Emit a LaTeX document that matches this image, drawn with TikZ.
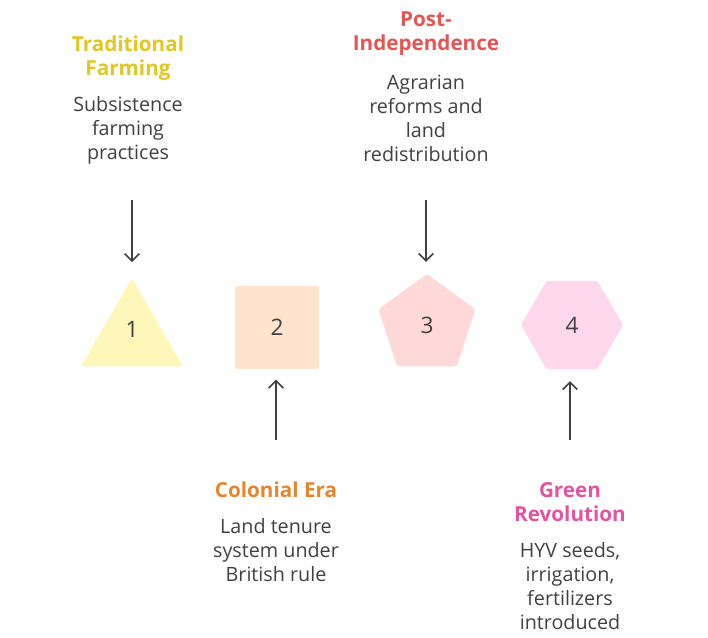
\documentclass[tikz,border=0pt]{standalone}
\usepackage{fontspec}
\setmainfont{Open Sans}
\usepackage{xcolor}
\usetikzlibrary{shapes.geometric,arrows.meta}
\definecolor{inkgray}{RGB}{64,64,64}
\definecolor{titleyellow}{RGB}{226,198,34}
\definecolor{titlered}{RGB}{230,84,84}
\definecolor{titleorange}{RGB}{228,134,48}
\definecolor{titlepink}{RGB}{226,84,162}
\definecolor{fillyellow}{RGB}{255,247,186}
\definecolor{fillpeach}{RGB}{255,227,204}
\definecolor{fillrose}{RGB}{255,216,216}
\definecolor{fillpink}{RGB}{255,216,238}
\begin{document}
\begin{tikzpicture}[x=0.75pt,y=-0.75pt,
		title/.style={font=\fontsize{15.5}{18}\selectfont\bfseries, align=center},
		desc/.style={font=\fontsize{14.8}{18}\selectfont, text=inkgray, align=center},
		era/.style={inner sep=0pt, outer sep=0pt, rounded corners=2pt, text=inkgray, font=\fontsize{17}{18}\selectfont},
		link/.style={-{Straight Barb[length=5.5pt,width=11pt]}, line width=1.2pt, inkgray}]
			\useasboundingbox (0,0) rectangle (708,638);
			\node[era, regular polygon, regular polygon sides=3, minimum size=88.4pt, fill=fillyellow] (stage1) at (132,337) {};
			\node[era, text=inkgray] (num1) at (132,329) {1};
			\node[era, rectangle, minimum width=63pt, minimum height=62.25pt, fill=fillpeach] (stage2) at (277,327.5) {2};
			\node[era, regular polygon, regular polygon sides=5, minimum size=76.5pt, fill=fillrose] (stage3) at (427,325) {3};
			\node[era, regular polygon, regular polygon sides=6, minimum size=76.5pt, fill=fillpink] (stage4) at (572,325) {4};
			\node[title, text=titleyellow] (title1) at (128,58) {Traditional\\Farming};
			\node[desc] (desc1) at (128,130) {Subsistence\\farming\\practices};
			\node[title, text=titleorange] (title2) at (276,490) {Colonial Era};
			\node[desc] (desc2) at (276,550) {Land tenure\\system under\\British rule};
			\node[title, text=titlered] (title3) at (426,33.5) {Post-\\Independence};
			\node[desc] (desc3) at (426,118) {Agrarian\\reforms and\\land\\redistribution};
			\node[title, text=titlepink] (title4) at (570,502) {Green\\Revolution};
			\node[desc] (desc4) at (570,586) {HYV seeds,\\irrigation,\\fertilizers\\introduced};
			\coordinate (tail1) at (132,200);
			\coordinate (tail2) at (276,440);
			\coordinate (tail3) at (426,200);
			\coordinate (tail4) at (570,440);
			\draw[link, shorten >=12pt] (tail1) -- (stage1.north);
			\draw[link, shorten >=8pt] (tail2) -- (stage2.south -| tail2);
			\draw[link, shorten >=9pt] (tail3) -- (stage3.north -| tail3);
			\draw[link, shorten >=9pt] (tail4) -- (stage4.south -| tail4);
		\end{tikzpicture}
\end{document}
